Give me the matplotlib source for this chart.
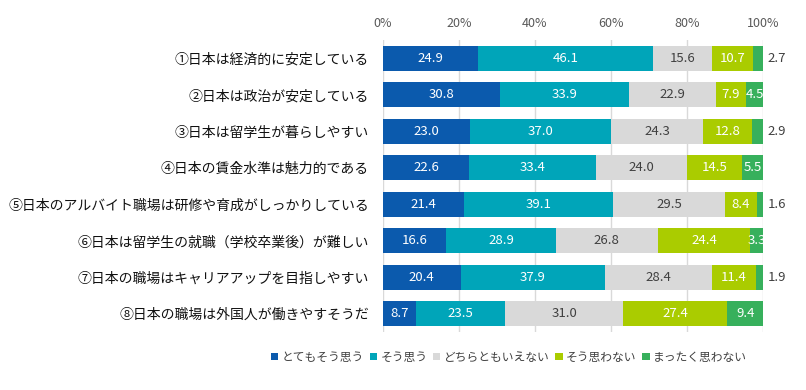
import matplotlib
matplotlib.use("Agg")
import matplotlib.pyplot as plt
import numpy as np

plt.rcParams["font.family"] = ["Noto Sans CJK JP", "DejaVu Sans"]

categories = [
    "①日本は経済的に安定している",
    "②日本は政治が安定している",
    "③日本は留学生が暮らしやすい",
    "④日本の賃金水準は魅力的である",
    "⑤日本のアルバイト職場は研修や育成がしっかりしている",
    "⑥日本は留学生の就職（学校卒業後）が難しい",
    "⑦日本の職場はキャリアアップを目指しやすい",
    "⑧日本の職場は外国人が働きやすそうだ",
]
series_names = ["とてもそう思う", "そう思う", "どちらともいえない", "そう思わない", "まったく思わない"]
very_agree = [24.9, 30.8, 23.0, 22.6, 21.4, 16.6, 20.4, 8.7]
agree = [46.1, 33.9, 37.0, 33.4, 39.1, 28.9, 37.9, 23.5]
neutral = [15.6, 22.9, 24.3, 24.0, 29.5, 26.8, 28.4, 31.0]
disagree = [10.7, 7.9, 12.8, 14.5, 8.4, 24.4, 11.4, 27.4]
strong_disagree = [2.7, 4.5, 2.9, 5.5, 1.6, 3.3, 1.9, 9.4]

colors = ["#0B5AAD", "#00A5B9", "#D9D9D9", "#AACC00", "#37B05C"]
text_colors = ["white", "white", "#404040", "white", "white"]

data = np.array([very_agree, agree, neutral, disagree, strong_disagree])

fig = plt.figure(figsize=(8.06, 3.9), dpi=100)
ax = fig.add_axes([383 / 806, 1 - 332 / 390, 380 / 806, 292 / 390])

y = np.arange(len(categories))
left = np.zeros(len(categories))
for k in range(data.shape[0]):
    vals = data[k]
    ax.barh(y, vals, left=left, height=0.68, color=colors[k],
            label=series_names[k], zorder=2)
    for i, v in enumerate(vals):
        if k == 4 and v < 3:
            ax.text(101.3, y[i], f"{v:.1f}", va="center", ha="left",
                    fontsize=9.5, color="#404040")
        else:
            ax.text(left[i] + v / 2, y[i], f"{v:.1f}", va="center",
                    ha="center", fontsize=9.5, color=text_colors[k])
    left += vals

ax.set_xlim(0, 100)
ax.set_ylim(len(categories) - 0.5, -0.5)
ax.set_yticks(y)
ax.set_yticklabels(categories, fontsize=10, color="#111111")
ax.set_xticks(np.arange(0, 101, 20))
ax.set_xticklabels([f"{t}%" for t in range(0, 101, 20)], fontsize=9, color="#595959")
ax.xaxis.tick_top()
ax.tick_params(axis="both", length=0)
ax.tick_params(axis="x", pad=7)
ax.tick_params(axis="y", pad=10)
ax.grid(axis="x", color="#D9D9D9", lw=1, zorder=0)
for s in ax.spines.values():
    s.set_visible(False)

fig.legend(loc="center", bbox_to_anchor=(509 / 806, 1 - 357 / 390), ncol=5,
           frameon=False, fontsize=8.5, handlelength=0.6, handleheight=0.6,
           handletextpad=0.3, columnspacing=0.5, labelcolor="#404040")

fig.savefig("out.png", dpi=100)
